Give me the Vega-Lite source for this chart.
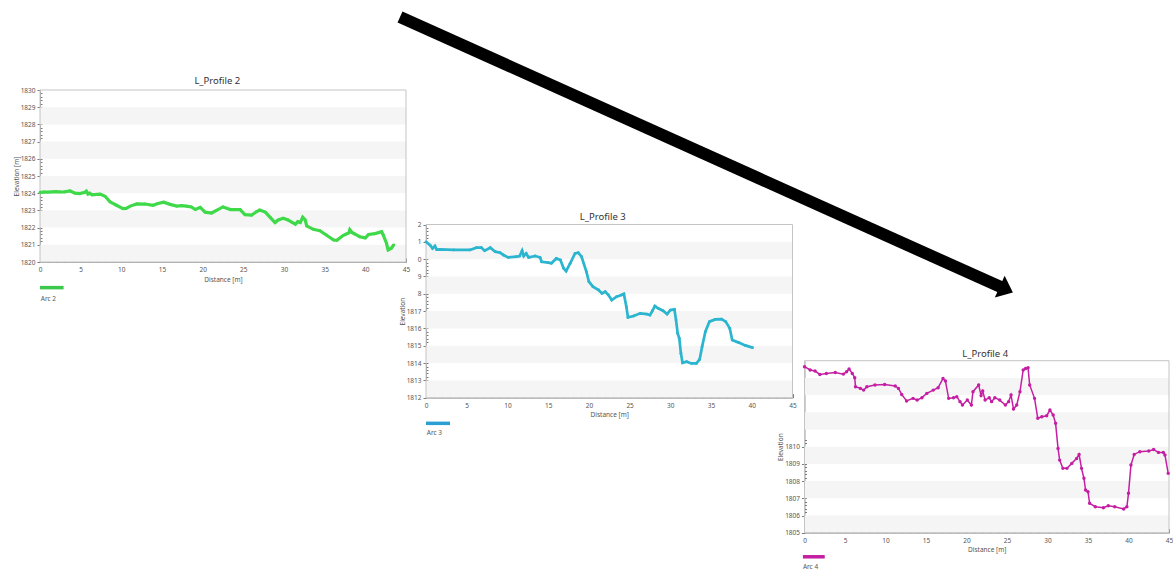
{
  "$schema": "https://vega.github.io/schema/vega-lite/v6.json",
  "width": 1173,
  "height": 572,
  "autosize": {"type": "none"},
  "padding": 0,
  "background": "white",
  "config": {
    "view": {"stroke": null},
    "font": "Noto Sans",
    "axis": {
      "grid": false,
      "domainColor": "#a0a0a0",
      "tickColor": "#7a7a7a",
      "labelColor": "#555555",
      "titleColor": "#555555",
      "labelFontSize": 6.5,
      "titleFontSize": 6.5,
      "titleFontWeight": "normal",
      "labelFlush": false,
      "labelOverlap": false,
      "labelBound": false,
      "zindex": 1
    }
  },
  "datasets": {
    "bands2": [{"lo": 1820, "hi": 1821}, {"lo": 1822, "hi": 1823}, {"lo": 1824, "hi": 1825}, {"lo": 1826, "hi": 1827}, {"lo": 1828, "hi": 1829}],
    "bands3": [{"lo": 1812, "hi": 1813}, {"lo": 1814, "hi": 1815}, {"lo": 1816, "hi": 1817}, {"lo": 1818, "hi": 1819}, {"lo": 1820, "hi": 1821}],
    "bands4": [{"lo": 1805, "hi": 1806}, {"lo": 1807, "hi": 1808}, {"lo": 1809, "hi": 1810}, {"lo": 1811, "hi": 1812}, {"lo": 1813, "hi": 1814}],
    "p2": [
      {"d": 0, "e": 1824.05}, {"d": 0.5, "e": 1824.07}, {"d": 1, "e": 1824.06}, {"d": 1.5, "e": 1824.08}, {"d": 2, "e": 1824.09},
      {"d": 2.5, "e": 1824.07}, {"d": 3, "e": 1824.08}, {"d": 3.7, "e": 1824.13}, {"d": 4.3, "e": 1824.0}, {"d": 4.9, "e": 1823.98},
      {"d": 5.5, "e": 1824.05}, {"d": 5.7, "e": 1824.12}, {"d": 5.9, "e": 1823.95}, {"d": 6.1, "e": 1824.0}, {"d": 6.4, "e": 1823.9},
      {"d": 7, "e": 1823.93}, {"d": 7.4, "e": 1823.95}, {"d": 8.0, "e": 1823.82}, {"d": 8.6, "e": 1823.5}, {"d": 9.4, "e": 1823.3},
      {"d": 10.2, "e": 1823.1}, {"d": 10.6, "e": 1823.12}, {"d": 11.1, "e": 1823.25}, {"d": 11.9, "e": 1823.38}, {"d": 12.9, "e": 1823.37},
      {"d": 13.9, "e": 1823.3}, {"d": 14.5, "e": 1823.4}, {"d": 15.2, "e": 1823.48}, {"d": 16.0, "e": 1823.35}, {"d": 16.8, "e": 1823.25},
      {"d": 17.4, "e": 1823.28}, {"d": 18.0, "e": 1823.25}, {"d": 18.6, "e": 1823.2}, {"d": 19.1, "e": 1823.05}, {"d": 19.7, "e": 1823.18},
      {"d": 20.3, "e": 1822.9}, {"d": 21.1, "e": 1822.85}, {"d": 21.7, "e": 1823.0}, {"d": 22.5, "e": 1823.2}, {"d": 23.4, "e": 1823.05},
      {"d": 24.6, "e": 1823.05}, {"d": 25.2, "e": 1822.75}, {"d": 26.0, "e": 1822.72}, {"d": 26.6, "e": 1822.92}, {"d": 27.0, "e": 1823.02},
      {"d": 27.7, "e": 1822.9}, {"d": 28.3, "e": 1822.6}, {"d": 28.9, "e": 1822.29}, {"d": 29.3, "e": 1822.44}, {"d": 29.9, "e": 1822.54},
      {"d": 30.5, "e": 1822.44}, {"d": 31.0, "e": 1822.3}, {"d": 31.4, "e": 1822.2}, {"d": 31.7, "e": 1822.35}, {"d": 32.0, "e": 1822.3},
      {"d": 32.3, "e": 1822.6}, {"d": 32.6, "e": 1822.45}, {"d": 32.8, "e": 1822.1}, {"d": 33.6, "e": 1821.9}, {"d": 34.4, "e": 1821.82},
      {"d": 35.2, "e": 1821.57}, {"d": 36.1, "e": 1821.28}, {"d": 36.5, "e": 1821.26}, {"d": 37.3, "e": 1821.55}, {"d": 38.0, "e": 1821.7},
      {"d": 38.1, "e": 1821.88}, {"d": 38.4, "e": 1821.7}, {"d": 38.7, "e": 1821.63}, {"d": 39.3, "e": 1821.47}, {"d": 40.0, "e": 1821.4},
      {"d": 40.4, "e": 1821.6}, {"d": 41.2, "e": 1821.65}, {"d": 42.0, "e": 1821.76}, {"d": 42.2, "e": 1821.57}, {"d": 42.6, "e": 1821.09},
      {"d": 42.8, "e": 1820.7}, {"d": 43.2, "e": 1820.8}, {"d": 43.5, "e": 1821.0}
    ],
    "p3": [
      {"d": 0, "e": 1821.0}, {"d": 0.5, "e": 1820.81}, {"d": 0.8, "e": 1820.62}, {"d": 1.1, "e": 1820.76}, {"d": 1.3, "e": 1820.55},
      {"d": 1.7, "e": 1820.56}, {"d": 3.4, "e": 1820.53}, {"d": 5.4, "e": 1820.53}, {"d": 6.2, "e": 1820.66}, {"d": 6.8, "e": 1820.66},
      {"d": 7.2, "e": 1820.49}, {"d": 7.9, "e": 1820.66}, {"d": 8.5, "e": 1820.43}, {"d": 9.1, "e": 1820.37}, {"d": 9.5, "e": 1820.24},
      {"d": 10.1, "e": 1820.1}, {"d": 11.1, "e": 1820.14}, {"d": 11.5, "e": 1820.18}, {"d": 11.8, "e": 1820.49}, {"d": 12.0, "e": 1820.18},
      {"d": 12.3, "e": 1820.33}, {"d": 12.6, "e": 1820.1}, {"d": 13.4, "e": 1820.18}, {"d": 14.0, "e": 1820.1}, {"d": 14.2, "e": 1819.85},
      {"d": 15.0, "e": 1819.8}, {"d": 15.4, "e": 1819.76}, {"d": 16.0, "e": 1820.04}, {"d": 16.5, "e": 1819.95}, {"d": 16.9, "e": 1819.47},
      {"d": 17.2, "e": 1819.31}, {"d": 17.7, "e": 1819.76}, {"d": 18.3, "e": 1820.33}, {"d": 18.7, "e": 1820.37}, {"d": 19.1, "e": 1820.14},
      {"d": 19.7, "e": 1819.27}, {"d": 20.0, "e": 1818.7}, {"d": 20.5, "e": 1818.41}, {"d": 21.2, "e": 1818.22}, {"d": 21.6, "e": 1818.02},
      {"d": 22.0, "e": 1818.12}, {"d": 22.4, "e": 1817.93}, {"d": 22.8, "e": 1817.64}, {"d": 23.4, "e": 1817.83}, {"d": 24.0, "e": 1817.93},
      {"d": 24.3, "e": 1817.99}, {"d": 24.6, "e": 1817.25}, {"d": 24.8, "e": 1816.64}, {"d": 25.5, "e": 1816.72}, {"d": 26.3, "e": 1816.87},
      {"d": 27.1, "e": 1816.83}, {"d": 27.5, "e": 1816.77}, {"d": 27.8, "e": 1817.02}, {"d": 28.1, "e": 1817.29}, {"d": 28.5, "e": 1817.16},
      {"d": 29.1, "e": 1817.02}, {"d": 29.6, "e": 1816.83}, {"d": 30.0, "e": 1817.06}, {"d": 30.5, "e": 1817.1}, {"d": 30.7, "e": 1816.48},
      {"d": 30.9, "e": 1815.71}, {"d": 31.1, "e": 1815.43}, {"d": 31.3, "e": 1814.56}, {"d": 31.5, "e": 1814.02}, {"d": 32.0, "e": 1814.08},
      {"d": 32.6, "e": 1813.98}, {"d": 33.2, "e": 1813.98}, {"d": 33.6, "e": 1814.21}, {"d": 33.9, "e": 1814.94}, {"d": 34.3, "e": 1815.81},
      {"d": 34.8, "e": 1816.39}, {"d": 35.5, "e": 1816.52}, {"d": 36.3, "e": 1816.54}, {"d": 36.8, "e": 1816.39}, {"d": 37.3, "e": 1816.0},
      {"d": 37.6, "e": 1815.33}, {"d": 38.4, "e": 1815.18}, {"d": 39.2, "e": 1815.02}, {"d": 40.1, "e": 1814.89}
    ],
    "p4": [
      {"d": 0, "e": 1814.65}, {"d": 0.7, "e": 1814.46}, {"d": 1.3, "e": 1814.4}, {"d": 1.9, "e": 1814.2}, {"d": 2.7, "e": 1814.26},
      {"d": 3.8, "e": 1814.32}, {"d": 4.8, "e": 1814.22}, {"d": 5.2, "e": 1814.36}, {"d": 5.5, "e": 1814.52}, {"d": 5.9, "e": 1814.26},
      {"d": 6.2, "e": 1814.01}, {"d": 6.3, "e": 1813.49}, {"d": 6.9, "e": 1813.39}, {"d": 7.3, "e": 1813.29}, {"d": 7.7, "e": 1813.49},
      {"d": 8.7, "e": 1813.59}, {"d": 9.9, "e": 1813.62}, {"d": 11.2, "e": 1813.53}, {"d": 11.6, "e": 1813.39}, {"d": 12.0, "e": 1813.04},
      {"d": 12.6, "e": 1812.66}, {"d": 13.4, "e": 1812.81}, {"d": 13.9, "e": 1812.71}, {"d": 14.5, "e": 1812.85}, {"d": 15.1, "e": 1813.1},
      {"d": 15.9, "e": 1813.29}, {"d": 16.5, "e": 1813.43}, {"d": 17.1, "e": 1813.97}, {"d": 17.4, "e": 1813.82}, {"d": 17.8, "e": 1812.81},
      {"d": 18.4, "e": 1812.85}, {"d": 18.8, "e": 1812.91}, {"d": 19.2, "e": 1812.62}, {"d": 19.5, "e": 1812.42}, {"d": 20.1, "e": 1812.71},
      {"d": 20.6, "e": 1812.42}, {"d": 20.8, "e": 1813.2}, {"d": 21.5, "e": 1813.59}, {"d": 21.8, "e": 1812.97}, {"d": 22.0, "e": 1813.24},
      {"d": 22.3, "e": 1812.71}, {"d": 22.8, "e": 1812.85}, {"d": 23.1, "e": 1812.62}, {"d": 23.5, "e": 1812.85}, {"d": 24.1, "e": 1812.71},
      {"d": 24.8, "e": 1812.42}, {"d": 25.2, "e": 1812.62}, {"d": 25.5, "e": 1813.0}, {"d": 25.8, "e": 1812.19}, {"d": 26.2, "e": 1812.42},
      {"d": 26.6, "e": 1813.2}, {"d": 27.0, "e": 1814.46}, {"d": 27.3, "e": 1814.55}, {"d": 27.6, "e": 1814.59}, {"d": 27.8, "e": 1813.59},
      {"d": 28.4, "e": 1812.81}, {"d": 28.8, "e": 1811.65}, {"d": 29.3, "e": 1811.74}, {"d": 29.9, "e": 1811.8}, {"d": 30.3, "e": 1812.13},
      {"d": 30.7, "e": 1811.84}, {"d": 31.0, "e": 1811.36}, {"d": 31.3, "e": 1809.9}, {"d": 31.5, "e": 1809.22}, {"d": 31.9, "e": 1808.74},
      {"d": 32.4, "e": 1808.74}, {"d": 33.0, "e": 1809.03}, {"d": 33.6, "e": 1809.32}, {"d": 33.9, "e": 1809.55}, {"d": 34.2, "e": 1808.74},
      {"d": 34.5, "e": 1808.16}, {"d": 34.7, "e": 1807.48}, {"d": 35.0, "e": 1807.38}, {"d": 35.2, "e": 1806.71}, {"d": 35.9, "e": 1806.51},
      {"d": 36.9, "e": 1806.45}, {"d": 37.5, "e": 1806.57}, {"d": 38.3, "e": 1806.51}, {"d": 39.4, "e": 1806.38}, {"d": 39.8, "e": 1806.51},
      {"d": 40.0, "e": 1807.29}, {"d": 40.3, "e": 1808.93}, {"d": 40.7, "e": 1809.55}, {"d": 41.4, "e": 1809.71}, {"d": 42.5, "e": 1809.75},
      {"d": 43.1, "e": 1809.84}, {"d": 43.7, "e": 1809.67}, {"d": 44.3, "e": 1809.67}, {"d": 44.5, "e": 1809.52}, {"d": 44.9, "e": 1808.45}
    ]
  },
  "resolve": {"scale": {"x": "independent", "y": "independent"}, "axis": {"x": "independent", "y": "independent"}},
  "layer": [
    {
      "resolve": {"axis": {"x": "independent", "y": "independent"}},
      "layer": [
        {
          "data": {"name": "bands4"},
          "mark": {"type": "rect", "fill": "#f5f5f5"},
          "encoding": {
            "x": {"datum": 0, "type": "quantitative",
              "scale": {"domain": [0, 45], "range": [804.5, 1169], "nice": false, "zero": false},
              "axis": {"orient": "bottom", "offset": -39.3, "title": "Distance [m]",
                "values": [0, 5, 10, 15, 20, 25, 30, 35, 40, 45],
                "ticks": false, "tickSize": 0, "labelPadding": 4.5, "titlePadding": 3}},
            "x2": {"datum": 45},
            "y": {"field": "lo", "type": "quantitative",
              "scale": {"domain": [1805, 1815], "range": [532.7, 360.7], "nice": false, "zero": false},
              "axis": {"orient": "left", "offset": -804.5, "title": "Elevation",
                "values": [1805, 1806, 1807, 1808, 1809, 1810],
                "format": "d", "tickSize": 3, "labelPadding": 2, "titlePadding": 1}},
            "y2": {"field": "hi"}
          }
        },
        {
          "data": {"values": [{}]},
          "mark": {"type": "rect", "fill": null, "stroke": "#c4c4c4", "strokeWidth": 1},
          "encoding": {
            "x": {"datum": 0, "type": "quantitative",
              "axis": {"orient": "bottom", "offset": -43.3, "title": null, "labels": false, "domain": false, "tickSize": 4,
                "values": [0,1,2,3,4,5,6,7,8,9,10,11,12,13,14,15,16,17,18,19,20,21,22,23,24,25,26,27,28,29,30,31,32,33,34,35,36,37,38,39,40,41,42,43,44,45]}},
            "x2": {"datum": 45},
            "y": {"datum": 1805, "type": "quantitative",
              "axis": {"orient": "left", "offset": -806.5, "title": null, "labels": false, "domain": false, "tickSize": 2,
                "values": [1805.2,1805.4,1805.6,1805.8,1806,1806.2,1806.4,1806.6,1806.8,1807,1807.2,1807.4,1807.6,1807.8,1808,1808.2,1808.4,1808.6,1808.8,1809,1809.2,1809.4,1809.6,1809.8,1810,1810.2,1810.4]}},
            "y2": {"datum": 1815}
          }
        },
        {
          "data": {"name": "p4"},
          "mark": {"type": "line", "color": "#c41fa3", "strokeWidth": 1.5, "point": {"filled": true, "size": 12, "color": "#c41fa3"}},
          "encoding": {
            "x": {"field": "d", "type": "quantitative", "axis": null},
            "y": {"field": "e", "type": "quantitative", "axis": null}
          }
        },
        {
          "data": {"values": [{}]},
          "mark": {"type": "text", "text": "L_Profile 4", "fontSize": 9.5, "color": "#333333"},
          "encoding": {
            "x": {"datum": 22.3, "type": "quantitative", "axis": null},
            "y": {"datum": 1815.37, "type": "quantitative", "axis": null}
          }
        },
        {
          "data": {"values": [{}]},
          "mark": {"type": "rule", "color": "#c41fa3", "strokeWidth": 3.5},
          "encoding": {
            "x": {"datum": -0.2, "type": "quantitative", "axis": null}, "x2": {"datum": 2.5},
            "y": {"datum": 1803.6, "type": "quantitative", "axis": null}
          }
        },
        {
          "data": {"values": [{}]},
          "mark": {"type": "text", "text": "Arc 4", "align": "left", "fontSize": 6.5, "color": "#555555"},
          "encoding": {
            "x": {"datum": -0.2, "type": "quantitative", "axis": null},
            "y": {"datum": 1803.02, "type": "quantitative", "axis": null}
          }
        }
      ]
    },
    {
      "resolve": {"axis": {"x": "independent", "y": "independent"}},
      "layer": [
        {
          "data": {"name": "bands3"},
          "mark": {"type": "rect", "fill": "#f5f5f5"},
          "encoding": {
            "x": {"datum": 0, "type": "quantitative",
              "scale": {"domain": [0, 45], "range": [426, 792.5], "nice": false, "zero": false},
              "axis": {"orient": "bottom", "offset": -174.3, "title": "Distance [m]",
                "values": [0, 5, 10, 15, 20, 25, 30, 35, 40, 45],
                "ticks": false, "tickSize": 0, "labelPadding": 4.5, "titlePadding": 3}},
            "x2": {"datum": 45},
            "y": {"field": "lo", "type": "quantitative",
              "scale": {"domain": [1812, 1822], "range": [397.7, 224.5], "nice": false, "zero": false},
              "axis": {"orient": "left", "offset": -426, "title": "Elevation",
                "values": [1812, 1813, 1814, 1815, 1816, 1817, 1818, 1819, 1820, 1821, 1822],
                "format": "d",
                "labelExpr": "datum.value >= 1818 ? substring(datum.label, 3) : datum.label",
                "tickSize": 3, "labelPadding": 2, "titlePadding": 1}},
            "y2": {"field": "hi"}
          }
        },
        {
          "data": {"values": [{}]},
          "mark": {"type": "rect", "fill": null, "stroke": "#c4c4c4", "strokeWidth": 1},
          "encoding": {
            "x": {"datum": 0, "type": "quantitative",
              "axis": {"orient": "bottom", "offset": -178.3, "title": null, "labels": false, "domain": false, "tickSize": 4,
                "values": [0,1,2,3,4,5,6,7,8,9,10,11,12,13,14,15,16,17,18,19,20,21,22,23,24,25,26,27,28,29,30,31,32,33,34,35,36,37,38,39,40,41,42,43,44,45]}},
            "x2": {"datum": 45},
            "y": {"datum": 1812, "type": "quantitative",
              "axis": {"orient": "left", "offset": -428, "title": null, "labels": false, "domain": false, "tickSize": 2,
                "values": [1812.2,1812.4,1812.6,1812.8,1813,1813.2,1813.4,1813.6,1813.8,1814,1814.2,1814.4,1814.6,1814.8,1815,1815.2,1815.4,1815.6,1815.8,1816,1816.2,1816.4,1816.6,1816.8,1817,1817.2,1817.4,1817.6,1817.8,1818,1818.2,1818.4,1818.6,1818.8,1819,1819.2,1819.4,1819.6,1819.8,1820,1820.2,1820.4,1820.6,1820.8,1821,1821.2,1821.4,1821.6,1821.8]}},
            "y2": {"datum": 1822}
          }
        },
        {
          "data": {"name": "p3"},
          "mark": {"type": "line", "color": "#2bb5cf", "strokeWidth": 2.7, "point": {"filled": true, "size": 8, "color": "#2bb5cf"}},
          "encoding": {
            "x": {"field": "d", "type": "quantitative", "axis": null},
            "y": {"field": "e", "type": "quantitative", "axis": null}
          }
        },
        {
          "data": {"values": [{}]},
          "mark": {"type": "text", "text": "L_Profile 3", "fontSize": 9.5, "color": "#333333"},
          "encoding": {
            "x": {"datum": 21.7, "type": "quantitative", "axis": null},
            "y": {"datum": 1822.45, "type": "quantitative", "axis": null}
          }
        },
        {
          "data": {"values": [{}]},
          "mark": {"type": "rule", "color": "#2a9fd4", "strokeWidth": 3.5},
          "encoding": {
            "x": {"datum": 0, "type": "quantitative", "axis": null}, "x2": {"datum": 2.95},
            "y": {"datum": 1810.52, "type": "quantitative", "axis": null}
          }
        },
        {
          "data": {"values": [{}]},
          "mark": {"type": "text", "text": "Arc 3", "align": "left", "fontSize": 6.5, "color": "#555555"},
          "encoding": {
            "x": {"datum": 0.1, "type": "quantitative", "axis": null},
            "y": {"datum": 1809.94, "type": "quantitative", "axis": null}
          }
        },
        {
          "data": {"values": [{}]},
          "mark": {"type": "rule", "color": "black", "strokeWidth": 12},
          "encoding": {
            "x": {"datum": -3.19, "type": "quantitative", "axis": null}, "x2": {"datum": 70.85},
            "y": {"datum": 1833.98, "type": "quantitative", "axis": null}, "y2": {"datum": 1818.33}
          }
        },
        {
          "data": {"values": [{}]},
          "mark": {"type": "point", "shape": "M -0.3 -1 L 0.9 0 L -0.3 1 Z", "size": 576, "angle": 24.2, "filled": true, "color": "black", "opacity": 1},
          "encoding": {
            "x": {"datum": 70.85, "type": "quantitative", "axis": null},
            "y": {"datum": 1818.33, "type": "quantitative", "axis": null}
          }
        }
      ]
    },
    {
      "resolve": {"axis": {"x": "independent", "y": "independent"}},
      "layer": [
        {
          "data": {"name": "bands2"},
          "mark": {"type": "rect", "fill": "#f5f5f5"},
          "encoding": {
            "x": {"datum": 0, "type": "quantitative",
              "scale": {"domain": [0, 45], "range": [40, 406], "nice": false, "zero": false},
              "axis": {"orient": "bottom", "offset": -310, "title": "Distance [m]",
                "values": [0, 5, 10, 15, 20, 25, 30, 35, 40, 45],
                "ticks": false, "tickSize": 0, "labelPadding": 4.5, "titlePadding": 3}},
            "x2": {"datum": 45},
            "y": {"field": "lo", "type": "quantitative",
              "scale": {"domain": [1820, 1830], "range": [262, 90], "nice": false, "zero": false},
              "axis": {"orient": "left", "offset": -40, "title": "Elevation [m]",
                "values": [1820, 1821, 1822, 1823, 1824, 1825, 1826, 1827, 1828, 1829, 1830],
                "format": "d", "tickSize": 3, "labelPadding": 2, "titlePadding": 1}},
            "y2": {"field": "hi"}
          }
        },
        {
          "data": {"values": [{}]},
          "mark": {"type": "rect", "fill": null, "stroke": "#c4c4c4", "strokeWidth": 1},
          "encoding": {
            "x": {"datum": 0, "type": "quantitative",
              "axis": {"orient": "bottom", "offset": -314, "title": null, "labels": false, "domain": false, "tickSize": 4,
                "values": [0,1,2,3,4,5,6,7,8,9,10,11,12,13,14,15,16,17,18,19,20,21,22,23,24,25,26,27,28,29,30,31,32,33,34,35,36,37,38,39,40,41,42,43,44,45]}},
            "x2": {"datum": 45},
            "y": {"datum": 1820, "type": "quantitative",
              "axis": {"orient": "left", "offset": -42, "title": null, "labels": false, "domain": false, "tickSize": 2,
                "values": [1820.2,1820.4,1820.6,1820.8,1821,1821.2,1821.4,1821.6,1821.8,1822,1822.2,1822.4,1822.6,1822.8,1823,1823.2,1823.4,1823.6,1823.8,1824,1824.2,1824.4,1824.6,1824.8,1825,1825.2,1825.4,1825.6,1825.8,1826,1826.2,1826.4,1826.6,1826.8,1827,1827.2,1827.4,1827.6,1827.8,1828,1828.2,1828.4,1828.6,1828.8,1829,1829.2,1829.4,1829.6,1829.8]}},
            "y2": {"datum": 1830}
          }
        },
        {
          "data": {"name": "p2"},
          "mark": {"type": "line", "color": "#3fd94a", "strokeWidth": 3.2, "point": {"filled": true, "size": 8, "color": "#3fd94a"}},
          "encoding": {
            "x": {"field": "d", "type": "quantitative", "axis": null},
            "y": {"field": "e", "type": "quantitative", "axis": null}
          }
        },
        {
          "data": {"values": [{}]},
          "mark": {"type": "text", "text": "L_Profile 2", "fontSize": 9.5, "color": "#333333"},
          "encoding": {
            "x": {"datum": 21.8, "type": "quantitative", "axis": null},
            "y": {"datum": 1830.52, "type": "quantitative", "axis": null}
          }
        },
        {
          "data": {"values": [{}]},
          "mark": {"type": "rule", "color": "#3cc84a", "strokeWidth": 3.5},
          "encoding": {
            "x": {"datum": 0, "type": "quantitative", "axis": null}, "x2": {"datum": 2.9},
            "y": {"datum": 1818.51, "type": "quantitative", "axis": null}
          }
        },
        {
          "data": {"values": [{}]},
          "mark": {"type": "text", "text": "Arc 2", "align": "left", "fontSize": 6.5, "color": "#555555"},
          "encoding": {
            "x": {"datum": 0.1, "type": "quantitative", "axis": null},
            "y": {"datum": 1817.85, "type": "quantitative", "axis": null}
          }
        }
      ]
    }
  ]
}
